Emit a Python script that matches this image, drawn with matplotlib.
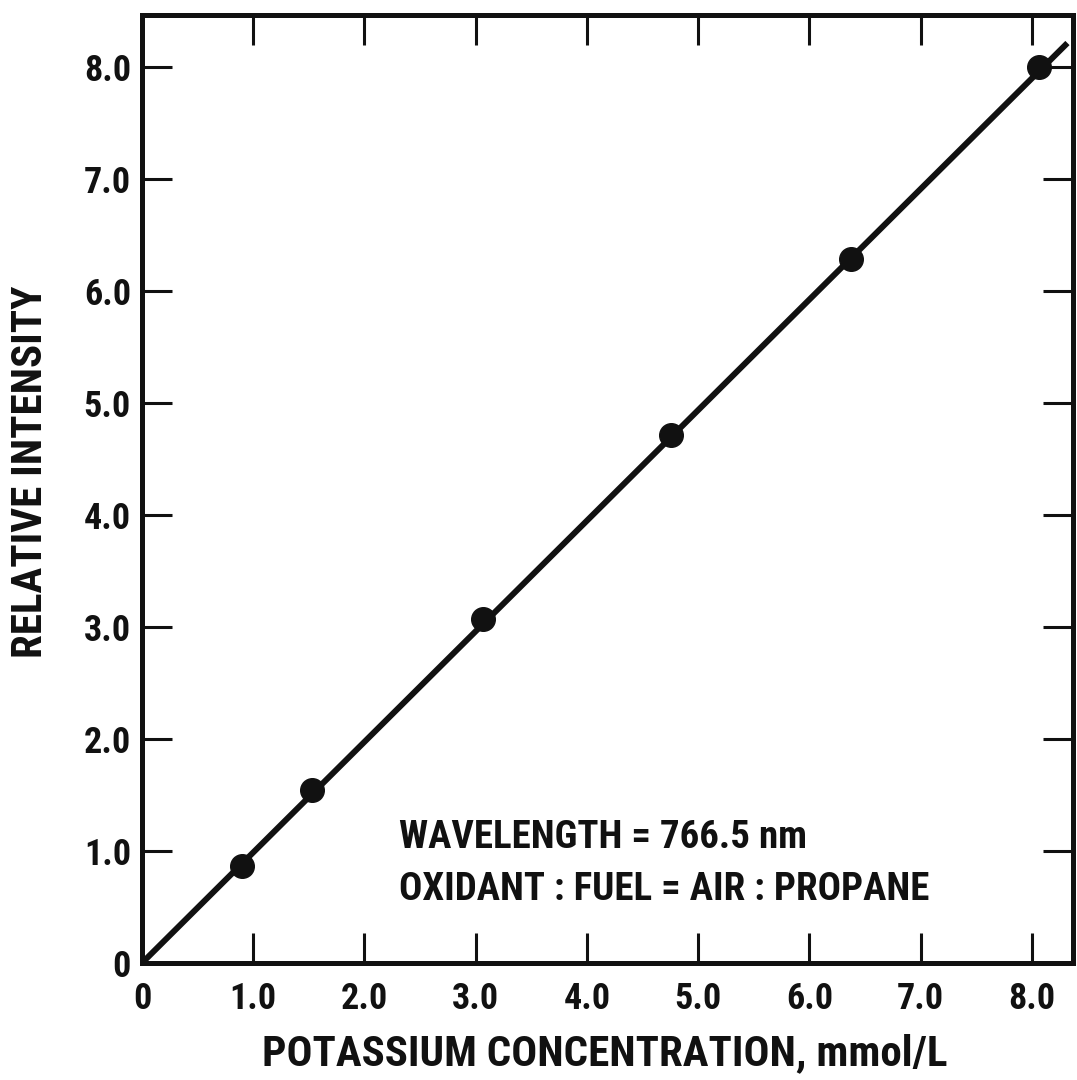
import matplotlib
matplotlib.use("Agg")
import matplotlib.pyplot as plt

conc = [0.90, 1.53, 3.07, 4.76, 6.37, 8.06]
intensity = [0.87, 1.54, 3.07, 4.71, 6.28, 8.00]

# calibration line end points
fit_x = [0.0, 8.32]
fit_y = [0.0, 8.21]

tick_vals = [0, 1, 2, 3, 4, 5, 6, 7, 8]
tick_labels = ["0", "1.0", "2.0", "3.0", "4.0", "5.0", "6.0", "7.0", "8.0"]

FONT = ["Roboto Condensed", "DejaVu Sans"]
INK = "#111111"
W, H = 1077, 1080

fig = plt.figure(figsize=(W / 100, H / 100), dpi=100)
ax = fig.add_axes([142 / W, 1 - 963 / H, 931 / W, 948 / H])

ax.plot(fit_x, fit_y, color=INK, lw=4.3, solid_capstyle="butt", zorder=2)
ax.plot(conc, intensity, "o", color=INK, ms=17, zorder=3)

ax.set_xlim(0, 8.37)
ax.set_ylim(0, 8.46)

ax.set_xticks(tick_vals)
ax.set_xticklabels(tick_labels)
ax.set_yticks(tick_vals)
ax.set_yticklabels(tick_labels)

for s in ax.spines.values():
    s.set_linewidth(3.6)
    s.set_color(INK)

ax.tick_params(direction="in", length=21.5, width=2.2, color=INK,
               top=True, right=True, labelsize=26, labelcolor=INK)
ax.tick_params(axis="x", pad=13)
ax.tick_params(axis="y", pad=8)
for lab in ax.get_xticklabels() + ax.get_yticklabels():
    lab.set_family(FONT)
    lab.set_fontweight("bold")

# axis titles placed on their baselines
fig.text(605 / W, 1 - 1065 / H, "POTASSIUM CONCENTRATION, mmol/L", family=FONT,
         fontweight="bold", fontsize=31, color=INK, ha="center", va="baseline")
fig.text(42 / W, 1 - 472 / H, "RELATIVE INTENSITY", family=FONT,
         fontweight="bold", fontsize=31, color=INK, ha="center", va="baseline",
         rotation=90, rotation_mode="anchor")

ax.text(2.31, 1.026, "WAVELENGTH = 766.5 nm", family=FONT, fontweight="bold",
        fontsize=28, color=INK, va="baseline", ha="left")
ax.text(2.31, 0.562, "OXIDANT : FUEL = AIR : PROPANE", family=FONT, fontweight="bold",
        fontsize=28, color=INK, va="baseline", ha="left")

fig.savefig("out.png", dpi=100)
